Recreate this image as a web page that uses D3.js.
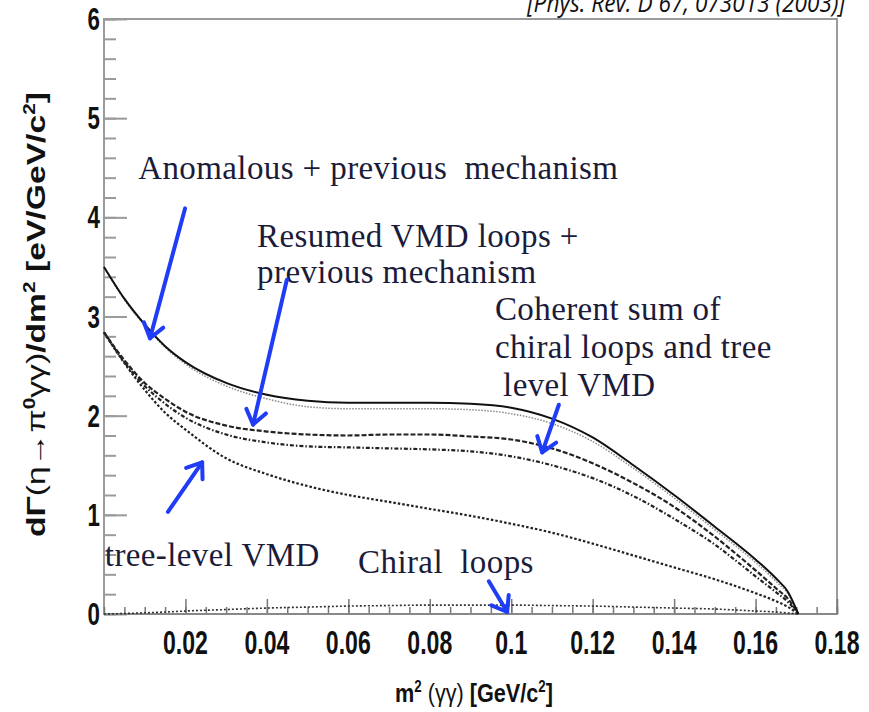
<!DOCTYPE html>
<html>
<head>
<meta charset="utf-8">
<script src="https://cdn.jsdelivr.net/npm/d3@7"></script>
<style>
  html, body { margin: 0; padding: 0; background: #fff; }
  svg { display: block; }
</style>
</head>
<body>
<div id="chart"></div>
<script>
// m^2(gamma gamma) sample points, GeV^2
const mass2 = [0, 0.005, 0.01, 0.015, 0.02, 0.03, 0.04, 0.05, 0.06, 0.07, 0.08, 0.09,
               0.10, 0.11, 0.12, 0.13, 0.14, 0.15, 0.16, 0.165, 0.168, 0.1705];

// dGamma/dm^2 in eV/GeV^2
const anomalous = [3.50, 3.18, 2.92, 2.70, 2.54, 2.33, 2.21, 2.15, 2.13, 2.13, 2.13, 2.12,
                   2.08, 1.97, 1.78, 1.50, 1.20, 0.88, 0.55, 0.36, 0.22, 0];
const anomalousAlt = [3.50, 3.17, 2.91, 2.69, 2.52, 2.30, 2.17, 2.09, 2.07, 2.07, 2.07, 2.06,
                      2.02, 1.92, 1.74, 1.47, 1.17, 0.85, 0.52, 0.33, 0.20, 0];
const resumedVMD = [2.84, 2.56, 2.33, 2.17, 2.04, 1.90, 1.84, 1.81, 1.80, 1.81, 1.81, 1.79,
                    1.76, 1.67, 1.52, 1.32, 1.08, 0.78, 0.44, 0.26, 0.15, 0];
const coherentSum = [2.84, 2.54, 2.30, 2.12, 1.98, 1.81, 1.73, 1.69, 1.68, 1.67, 1.66, 1.64,
                     1.59, 1.50, 1.37, 1.19, 0.96, 0.70, 0.38, 0.22, 0.12, 0];
const treeVMD = [2.84, 2.53, 2.26, 2.03, 1.86, 1.57, 1.41, 1.29, 1.20, 1.13, 1.06, 0.99,
                 0.91, 0.82, 0.71, 0.59, 0.47, 0.35, 0.21, 0.13, 0.07, 0];
const chiralLoops = [0, 0.005, 0.012, 0.02, 0.03, 0.045, 0.06, 0.07, 0.08, 0.085, 0.09, 0.09,
                     0.09, 0.085, 0.08, 0.07, 0.06, 0.05, 0.03, 0.02, 0.01, 0];

const xTicks = [0.02, 0.04, 0.06, 0.08, 0.1, 0.12, 0.14, 0.16, 0.18];
const xTickLabels = ["0.02", "0.04", "0.06", "0.08", "0.1", "0.12", "0.14", "0.16", "0.18"];
const yTicks = [0, 1, 2, 3, 4, 5, 6];

// annotation arrows, [tailX, tailY, tipX, tipY] in data units
const arrows = [
    [0.0199, 4.09, 0.0113, 2.78],
    [0.0449, 3.37, 0.0366, 1.91],
    [0.1117, 2.11, 0.1076, 1.63],
    [0.0157, 1.03, 0.0241, 1.53],
    [0.0945, 0.33, 0.0990, 0.02]
];

const width = 869, height = 712;
const svg = d3.select("#chart").append("svg")
    .attr("width", width)
    .attr("height", height);

const x = d3.scaleLinear().domain([0, 0.18]).range([104, 837]);
const y = d3.scaleLinear().domain([0, 6]).range([614, 19]);

// reference text at the very top (cut off by the page edge)
svg.append("text")
    .attr("x", 527)
    .attr("y", 12)
    .attr("textLength", 318)
    .attr("lengthAdjust", "spacingAndGlyphs")
    .style("font-family", "'Open Sans', 'DejaVu Sans', sans-serif")
    .style("font-style", "italic")
    .style("font-size", "26px")
    .style("fill", "#111")
    .text("[Phys. Rev. D 67, 073013 (2003)]");

// frame
const frameColor = "#9a9a9a";
svg.append("rect")
    .attr("x", x(0))
    .attr("y", y(6))
    .attr("width", x(0.18) - x(0))
    .attr("height", y(0) - y(6))
    .attr("fill", "none")
    .attr("stroke", frameColor)
    .attr("stroke-width", 2);

// y ticks (inward)
const yMinor = d3.range(0, 6.001, 0.2).map(v => +v.toFixed(1));
svg.append("g")
    .attr("transform", `translate(${x(0)},0)`)
    .call(d3.axisRight(y).tickValues(yMinor).tickSize(12).tickFormat(""))
    .call(g => g.select(".domain").remove())
    .call(g => g.selectAll("line").attr("stroke", frameColor).attr("stroke-width", 2));
svg.append("g")
    .attr("transform", `translate(${x(0)},0)`)
    .call(d3.axisRight(y).tickValues(yTicks).tickSize(23).tickFormat(""))
    .call(g => g.select(".domain").remove())
    .call(g => g.selectAll("line").attr("stroke", frameColor).attr("stroke-width", 2));

// x ticks (inward)
const xMinor = d3.range(0, 0.1801, 0.005).map(v => +v.toFixed(3));
svg.append("g")
    .attr("transform", `translate(0,${y(0)})`)
    .call(d3.axisTop(x).tickValues(xMinor).tickSize(7).tickFormat(""))
    .call(g => g.select(".domain").remove())
    .call(g => g.selectAll("line").attr("stroke", "#777").attr("stroke-width", 1.5));
svg.append("g")
    .attr("transform", `translate(0,${y(0)})`)
    .call(d3.axisTop(x).tickValues(xTicks).tickSize(15).tickFormat(""))
    .call(g => g.select(".domain").remove())
    .call(g => g.selectAll("line").attr("stroke", "#777").attr("stroke-width", 1.5));

svg.append("line")
    .attr("x1", x(0)).attr("x2", x(0.18))
    .attr("y1", y(0)).attr("y2", y(0))
    .attr("stroke", "#888").attr("stroke-width", 2);

// tick labels, condensed bold like the original
const tickFont = "'Liberation Sans', Arial, sans-serif";
svg.append("g").selectAll("text")
    .data(xTicks)
    .enter().append("text")
    .attr("transform", d => `translate(${x(d)},${y(0) + 40}) scale(0.7,1)`)
    .attr("text-anchor", "middle")
    .style("font-family", tickFont)
    .style("font-weight", "bold")
    .style("font-size", "33px")
    .style("fill", "#111")
    .text((d, i) => xTickLabels[i]);

svg.append("g").selectAll("text")
    .data(yTicks)
    .enter().append("text")
    .attr("transform", d => `translate(${x(0) - 4},${y(d) + 11}) scale(0.72,1)`)
    .attr("text-anchor", "end")
    .style("font-family", tickFont)
    .style("font-weight", "bold")
    .style("font-size", "31px")
    .style("fill", "#111")
    .text(d => d);

// axis titles
const xTitle = svg.append("text")
    .attr("x", 395)
    .attr("y", 702)
    .attr("textLength", 158)
    .attr("lengthAdjust", "spacingAndGlyphs")
    .style("font-family", tickFont)
    .style("font-weight", "bold")
    .style("font-size", "26px")
    .style("fill", "#111");
xTitle.append("tspan").text("m");
xTitle.append("tspan").attr("dy", -10).style("font-size", "16px").text("2");
xTitle.append("tspan").attr("dy", 10).style("font-weight", "normal").text(" (γγ) ");
xTitle.append("tspan").text("[GeV/c");
xTitle.append("tspan").attr("dy", -10).style("font-size", "16px").text("2");
xTitle.append("tspan").attr("dy", 10).text("]");

const yTitle = svg.append("text")
    .attr("transform", "translate(45,537) rotate(-90)")
    .attr("textLength", 445)
    .attr("lengthAdjust", "spacingAndGlyphs")
    .style("font-family", tickFont)
    .style("font-weight", "bold")
    .style("font-size", "26px")
    .style("fill", "#111");
yTitle.append("tspan").text("dΓ");
yTitle.append("tspan").style("font-weight", "normal").text("(η→π");
yTitle.append("tspan").attr("dy", -10).style("font-size", "16px").text("0");
yTitle.append("tspan").attr("dy", 10).style("font-weight", "normal").text("γγ)");
yTitle.append("tspan").text("/dm");
yTitle.append("tspan").attr("dy", -10).style("font-size", "16px").text("2");
yTitle.append("tspan").attr("dy", 10).text(" [eV/GeV/c");
yTitle.append("tspan").attr("dy", -10).style("font-size", "16px").text("2");
yTitle.append("tspan").attr("dy", 10).text("]");

// curves
const series = [
    { values: chiralLoops, stroke: "#333", width: 1.6, dash: "2,2" },
    { values: treeVMD, stroke: "#222", width: 2.2, dash: "2.5,2" },
    { values: coherentSum, stroke: "#222", width: 2.2, dash: "4,2,1.5,2" },
    { values: resumedVMD, stroke: "#222", width: 2.2, dash: "5,2" },
    { values: anomalousAlt, stroke: "#888", width: 1.5, dash: "1.5,1.5" },
    { values: anomalous, stroke: "#111", width: 2, dash: null }
];

const line = d3.line()
    .x((d, i) => x(mass2[i]))
    .y(d => y(d))
    .curve(d3.curveMonotoneX);

svg.append("g").selectAll("path")
    .data(series)
    .enter().append("path")
    .attr("d", d => line(d.values))
    .attr("fill", "none")
    .attr("stroke", d => d.stroke)
    .attr("stroke-width", d => d.width)
    .attr("stroke-dasharray", d => d.dash);

// annotations
const noteColor = "#1b1b3a";
const notes = [
    { x: 0.0084, y: 4.39, text: "Anomalous + previous  mechanism" },
    { x: 0.0376, y: 3.70, text: "Resumed VMD loops +" },
    { x: 0.0376, y: 3.34, text: "previous mechanism" },
    { x: 0.0960, y: 2.96, text: "Coherent sum of" },
    { x: 0.0960, y: 2.58, text: "chiral loops and tree" },
    { x: 0.0980, y: 2.20, text: "level VMD" },
    { x: 0.0002, y: 0.48, text: "tree-level VMD" },
    { x: 0.0624, y: 0.41, text: "Chiral  loops" }
];
svg.append("g").selectAll("text")
    .data(notes)
    .enter().append("text")
    .attr("x", d => x(d.x))
    .attr("y", d => y(d.y))
    .style("font-family", "'Liberation Serif', 'Times New Roman', serif")
    .style("font-size", "33px")
    .style("letter-spacing", "0.4px")
    .style("fill", noteColor)
    .style("white-space", "pre")
    .attr("xml:space", "preserve")
    .text(d => d.text);

// blue arrows
const arrowColor = "#1f3cf7";
const arrowG = svg.append("g")
    .attr("stroke", arrowColor)
    .attr("stroke-width", 4)
    .attr("stroke-linecap", "round")
    .attr("fill", "none");
arrows.forEach(a => {
    const x1 = x(a[0]), y1 = y(a[1]), x2 = x(a[2]), y2 = y(a[3]);
    const ang = Math.atan2(y2 - y1, x2 - x1);
    const head = 17, spread = Math.PI / 5;
    arrowG.append("line")
        .attr("x1", x1).attr("y1", y1)
        .attr("x2", x2).attr("y2", y2);
    arrowG.append("path")
        .attr("stroke-linejoin", "round")
        .attr("d", `M${x2 - head * Math.cos(ang - spread)},${y2 - head * Math.sin(ang - spread)}`
            + `L${x2},${y2}`
            + `L${x2 - head * Math.cos(ang + spread)},${y2 - head * Math.sin(ang + spread)}`);
});
</script>
</body>
</html>
